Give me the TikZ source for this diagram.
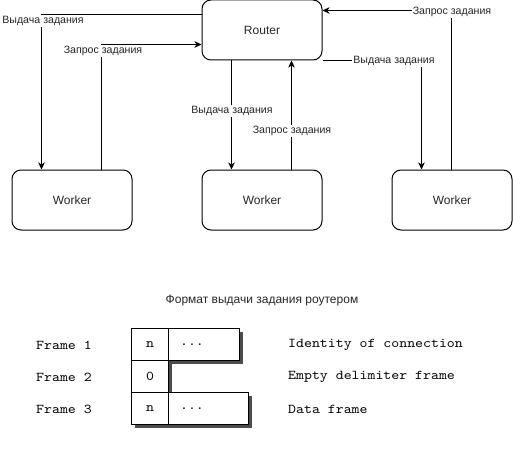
\documentclass[tikz,border=0pt]{standalone}
\usepackage{fontspec}
\setmainfont{Liberation Sans}
\newfontfamily\monof{lmmono10-regular}[Extension=.otf, FakeStretch=1.12]
\usetikzlibrary{arrows.meta,calc,shadows}
\begin{document}
\begin{tikzpicture}[x=1pt,y=-1pt,
 box/.style={draw, line width=1pt, rounded corners=9pt, minimum width=120pt, minimum height=60pt, inner sep=0pt, font=\fontsize{12}{14}\selectfont, text=black!85},
 arr/.style={line width=1pt, -{Stealth[length=7pt,width=6.5pt,inset=2pt]}},
 lbl/.style={fill=white, inner sep=1.2pt, font=\fontsize{10.6}{13}\selectfont, text=black!85},
 cell/.style={draw, fill=white, line width=1pt, anchor=north west, inner sep=0pt, minimum height=32pt, drop shadow={shadow xshift=3pt, shadow yshift=-3pt, fill=black!70, opacity=1}},
 mono/.style={font=\monof\fontsize{13.5}{15}\selectfont},
 lefttxt/.style={mono, anchor=west, inner sep=0pt},
 ttl/.style={font=\fontsize{12}{14}\selectfont, text=black!85},
]
\useasboundingbox (0,0) rectangle (513,449);

\node[box] (router) at (262,30) {Router};
\node[box] (w1) at (72,200) {Worker};
\node[box] (w2) at (262,200) {Worker};
\node[box] (w3) at (452,200) {Worker};

% connectors
\draw[arr] ($(router.north west)+(0,15)$) -| ($(w1.north west)+(30,0)$);
\draw[arr] ($(w1.north west)+(90,0)$) |- ($(router.north west)+(0,45)$);
\draw[arr] ($(router.south west)+(30,0)$) -- ($(w2.north west)+(30,0)$);
\draw[arr] ($(w2.north west)+(90,0)$) -- ($(router.south west)+(90,0)$);
\draw[arr] ($(w3.north west)+(60,0)$) |- ($(router.north east)+(0,11)$);
\draw[arr] (router.south east) -| ($(w3.north west)+(30,0)$);

\node[lbl] (l1) at (43,21) {Выдача задания};
\node[lbl] (l2) at (103,51) {Запрос задания};
\node[lbl] (l3) at (232,111) {Выдача задания};
\node[lbl] (l4) at (292,131) {Запрос задания};
\node[lbl] (l5) at (452,12) {Запрос задания};
\node[lbl] (l6) at (394,61) {Выдача задания};

% frame format
\node[ttl] (title) at (262,301) {Формат выдачи задания роутером};

\node[lefttxt] (f1) at (36,345) {Frame 1};
\node[lefttxt] (f2) at (36,377) {Frame 2};
\node[lefttxt] (f3) at (36,409) {Frame 3};

\node[cell, minimum width=37pt, mono] (c11) at (131,328) {n};
\node[cell, minimum width=71pt] (c12) at (168,328) {};
\node[cell, minimum width=37pt, mono] (c21) at (131,360) {0};
\node[cell, minimum width=37pt, mono] (c31) at (131,392) {n};
\node[cell, minimum width=80pt] (c32) at (168,392) {};
\node[mono] (d1) at (192,345) {...};
\node[mono] (d3) at (192,409) {...};

\node[lefttxt] (t1) at (288,345) {Identity of connection};
\node[lefttxt] (t2) at (288,377) {Empty delimiter frame};
\node[lefttxt] (t3) at (288,409) {Data frame};
\end{tikzpicture}
\end{document}
